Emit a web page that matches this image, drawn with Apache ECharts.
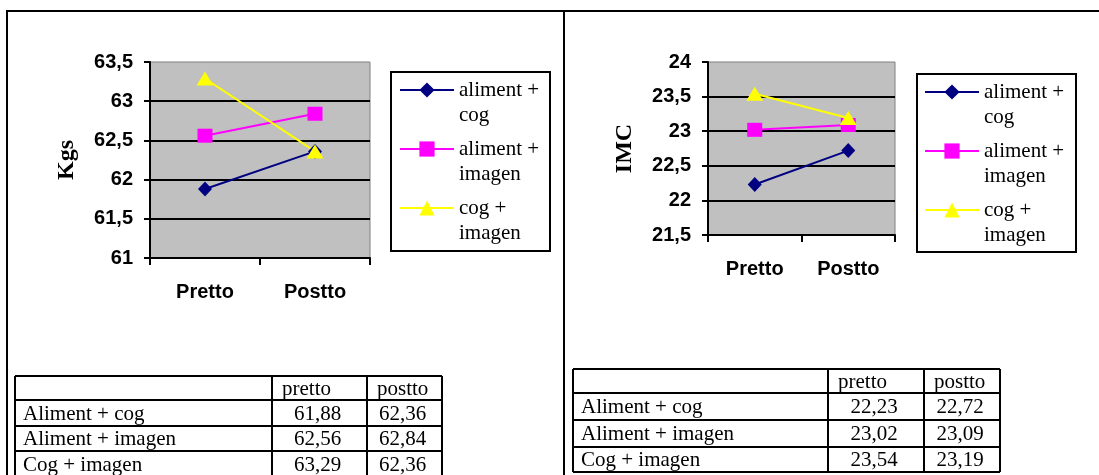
<!DOCTYPE html>
<html>
<head>
<meta charset="utf-8">
<script src="https://cdn.jsdelivr.net/npm/echarts@6/dist/echarts.min.js"></script>
<style>
  html, body { margin: 0; padding: 0; background: #fff; }
  #chart { width: 1099px; height: 475px; }
</style>
</head>
<body>
<div id="chart"></div>
<script>
// Categories and groups
const categories = ['Pretto', 'Postto'];
const groups = ['aliment + cog', 'aliment + imagen', 'cog + imagen'];
const rowLabels = ['Aliment + cog', 'Aliment + imagen', 'Cog + imagen'];
const colHeaders = ['pretto', 'postto'];

// Weight (Kgs) per group, before and after
const kgsPretto = [61.88, 62.56, 63.29];
const kgsPostto = [62.36, 62.84, 62.36];

// Body mass index (IMC) per group, before and after
const imcPretto = [22.23, 23.02, 23.54];
const imcPostto = [22.72, 23.09, 23.19];

// Value axis ranges
const kgsAxis = [61, 63.5, 0.5];
const imcAxis = [21.5, 24, 0.5];

const colors = ['#000080', '#ff00ff', '#ffff00'];
const symbols = ['diamond', 'rect', 'triangle'];
const symbolSizes = [[14, 15], [15, 14], [17, 14]];

const SANS = 'Liberation Sans';
const SERIF = 'Liberation Serif';
const comma = v => String(v).replace('.', ',');

function grid(left, top, width, height) {
  return {
    left, top, width, height, show: true,
    backgroundColor: '#c0c0c0', borderColor: '#808080', borderWidth: 1,
    containLabel: false, outerBoundsMode: 'none'
  };
}

function xAxis(gridIndex) {
  return {
    type: 'category', gridIndex, data: categories, boundaryGap: true,
    axisLine: { onZero: false, lineStyle: { color: '#000', width: 2 } },
    axisTick: { show: true, length: 7, lineStyle: { color: '#000', width: 2 } },
    axisLabel: { margin: 24, color: '#000', fontFamily: SANS, fontWeight: 'bold', fontSize: 20 },
    splitLine: { show: false }
  };
}

function yAxis(gridIndex, range, name) {
  return {
    type: 'value', gridIndex, min: range[0], max: range[1], interval: range[2],
    name, nameLocation: 'middle', nameGap: 71,
    nameTextStyle: { fontFamily: SERIF, fontWeight: 'bold', fontSize: 24, color: '#000' },
    axisLine: { show: true, onZero: false, lineStyle: { color: '#000', width: 2 } },
    axisTick: { show: true, length: 6, lineStyle: { color: '#000', width: 2 } },
    axisLabel: { margin: 17, color: '#000', fontFamily: SANS, fontWeight: 'bold', fontSize: 20, formatter: comma },
    splitLine: { show: true, showMaxLine: false, lineStyle: { color: '#000', width: 2 } }
  };
}

// Each legend label gets a leading blank line so the icon sits beside its first text line
function legend(left, top) {
  return {
    orient: 'vertical', left, top, padding: 0,
    itemWidth: 54, itemHeight: 19, itemGap: -16,
    selectedMode: false,
    data: groups,
    formatter: n => '\n' + n.replace(' + ', ' +\n'),
    textStyle: { fontFamily: SERIF, fontSize: 21, lineHeight: 25, color: '#000' }
  };
}

function legendBox(x, y, w, h) {
  return { type: 'rect', z: -1, shape: { x, y, width: w, height: h }, style: { fill: '#fff', stroke: '#000', lineWidth: 2 } };
}

function seriesFor(axisIndex, pre, post) {
  return groups.map((g, i) => ({
    type: 'line', name: g, xAxisIndex: axisIndex, yAxisIndex: axisIndex,
    data: [pre[i], post[i]],
    symbol: symbols[i], symbolSize: symbolSizes[i],
    lineStyle: { color: colors[i], width: 2 },
    itemStyle: { color: colors[i], borderWidth: 0 },
    emphasis: { disabled: true }
  }));
}

// Data tables drawn below each chart
function table(cols, rows, pre, post) {
  const els = [];
  const stroke = { stroke: '#000', lineWidth: 2 };
  rows.forEach(y => els.push({ type: 'line', shape: { x1: cols[0], y1: y, x2: cols[3], y2: y }, style: stroke }));
  cols.forEach(x => els.push({ type: 'line', shape: { x1: x, y1: rows[0], x2: x, y2: rows[4] }, style: stroke }));
  const font = { fontFamily: SERIF, fontSize: 21, fill: '#000', verticalAlign: 'middle' };
  const mid = r => (rows[r] + rows[r + 1]) / 2 + 1;
  colHeaders.forEach((h, c) => els.push({
    type: 'text', style: Object.assign({ text: h, x: cols[c + 1] + 10, y: mid(0), align: 'left' }, font)
  }));
  rowLabels.forEach((lab, r) => {
    els.push({ type: 'text', style: Object.assign({ text: lab, x: cols[0] + 8, y: mid(r + 1), align: 'left' }, font) });
    [pre[r], post[r]].forEach((v, c) => els.push({
      type: 'text',
      style: Object.assign({ text: v.toFixed(2).replace('.', ','), x: (cols[c + 1] + cols[c + 2]) / 2 - 2, y: mid(r + 1), align: 'center' }, font)
    }));
  });
  return els;
}

const frame = [
  { type: 'line', shape: { x1: 7, y1: 11, x2: 1099, y2: 11 }, style: { stroke: '#000', lineWidth: 2 } },
  { type: 'line', shape: { x1: 7, y1: 10, x2: 7, y2: 475 }, style: { stroke: '#000', lineWidth: 2 } },
  { type: 'line', shape: { x1: 564, y1: 10, x2: 564, y2: 475 }, style: { stroke: '#000', lineWidth: 2 } }
];

const chart = echarts.init(document.getElementById('chart'), null, { renderer: 'canvas' });
chart.setOption({
  animation: false,
  backgroundColor: '#fff',
  grid: [grid(150, 62, 220, 196), grid(708, 62, 187, 173)],
  xAxis: [xAxis(0), xAxis(1)],
  yAxis: [yAxis(0, kgsAxis, 'Kgs'), yAxis(1, imcAxis, 'IMC')],
  legend: [legend(399, 52.5), legend(924, 54.5)],
  series: seriesFor(0, kgsPretto, kgsPostto).concat(seriesFor(1, imcPretto, imcPostto)),
  graphic: frame
    .concat([legendBox(391, 72, 159, 179), legendBox(917, 74, 159, 178)])
    .concat(table([15, 272, 367, 442], [376, 400, 426, 451, 477], kgsPretto, kgsPostto))
    .concat(table([573, 828, 924, 1000], [369, 393, 420, 447, 472], imcPretto, imcPostto))
});
</script>
</body>
</html>
